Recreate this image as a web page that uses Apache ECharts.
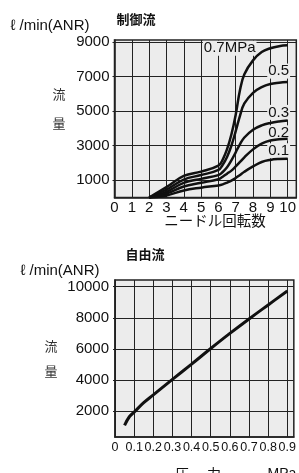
<!DOCTYPE html>
<html>
<head>
<meta charset="utf-8">
<script src="https://cdn.jsdelivr.net/npm/echarts@6/dist/echarts.min.js"></script>
<style>
html,body{margin:0;padding:0;background:#fff;}
#main{width:299px;height:473px;}
</style>
</head>
<body>
<div id="main"></div>
<script>
// 制御流 (needle turns vs flow)
var turns = [2, 3, 4, 5, 6, 6.25, 6.5, 6.75, 7, 7.25, 7.5, 8, 8.5, 9, 9.5, 10];
var flow07 = [0, 600, 1250, 1500, 1850, 2200, 2800, 3650, 4800, 6250, 7150, 7950, 8430, 8650, 8770, 8820];
var flow05 = [0, 450, 1040, 1300, 1600, 1900, 2350, 3000, 3850, 4750, 5450, 6070, 6400, 6580, 6650, 6690];
var flow03 = [0, 330, 850, 1080, 1300, 1480, 1750, 2150, 2620, 3100, 3480, 3930, 4180, 4320, 4410, 4470];
var flow02 = [0, 230, 640, 850, 1060, 1200, 1380, 1560, 1800, 2060, 2330, 2790, 3120, 3300, 3370, 3400];
var flow01 = [0, 120, 410, 570, 700, 760, 860, 980, 1130, 1310, 1490, 1800, 2060, 2180, 2230, 2245];
var turnTicks = [0, 1, 2, 3, 4, 5, 6, 7, 8, 9, 10];
var flowTicks1 = [1000, 3000, 5000, 7000, 9000];

// 自由流 (pressure vs flow)
var pressure = [0.05, 0.075, 0.1, 0.15, 0.2, 0.3, 0.4, 0.5, 0.6, 0.7, 0.8, 0.9];
var freeFlow = [1100, 1650, 1950, 2550, 3050, 4050, 5030, 6030, 7000, 7930, 8830, 9720];
var pressTicks = [0, 0.1, 0.2, 0.3, 0.4, 0.5, 0.6, 0.7, 0.8, 0.9];
var flowTicks2 = [2000, 4000, 6000, 8000, 10000];

var myChart = echarts.init(document.getElementById('main'));

var numFont = 'Liberation Sans';
var plotBg = '#ececec';
var ink = '#111';

function pair(xs, ys){
    var out = [];
    for (var i = 0; i < xs.length; i++) out.push([xs[i], ys[i]]);
    return out;
}
function plain(v){ return String(v); }

function curve(name, ys, dx, dy){
    return {
        name: name,
        type: 'line',
        xAxisIndex: 0,
        yAxisIndex: 0,
        data: pair(turns, ys),
        showSymbol: false,
        smooth: 0.4,
        lineStyle: {color: ink, width: 2.5},
        z: 5,
        markPoint: {
            symbol: 'circle',
            symbolSize: 0,
            silent: true,
            data: [{coord: [turns[turns.length - 1], ys[ys.length - 1]]}],
            label: {
                show: true,
                position: 'inside',
                formatter: name,
                offset: [dx, dy],
                color: ink,
                fontFamily: numFont,
                fontSize: 15,
                backgroundColor: plotBg,
                padding: [0, 1]
            }
        }
    };
}

var axisLineStyle = {show: true, lineStyle: {color: '#222', width: 1.5}};
var gridLine = {show: true, lineStyle: {color: '#222', width: 1}};

var option = {
    animation: false,
    grid: [
        {left: 114.5, right: 0, top: 40, bottom: 275.5, show: true, backgroundColor: plotBg, borderColor: '#222', borderWidth: 1.5},
        {left: 115, right: 0, top: 280, bottom: 36, show: true, backgroundColor: plotBg, borderColor: '#222', borderWidth: 1.5}
    ],
    xAxis: [
        {
            type: 'value', gridIndex: 0, min: 0, max: 10.5,
            axisLine: axisLineStyle,
            axisTick: {show: false, customValues: turnTicks},
            axisLabel: {customValues: turnTicks, formatter: plain, color: ink, fontFamily: numFont, fontSize: 15, margin: 3},
            splitLine: gridLine
        },
        {
            type: 'value', gridIndex: 1, min: 0, max: 0.934,
            axisLine: axisLineStyle,
            axisTick: {show: false, customValues: pressTicks},
            axisLabel: {customValues: pressTicks, formatter: plain, color: ink, fontFamily: numFont, fontSize: 12.5, margin: 4},
            splitLine: gridLine
        }
    ],
    yAxis: [
        {
            type: 'value', gridIndex: 0, min: 0, max: 9130,
            axisLine: axisLineStyle,
            axisTick: {show: true, length: 2, customValues: flowTicks1, lineStyle: {color: '#222'}},
            axisLabel: {customValues: flowTicks1, formatter: plain, color: ink, fontFamily: numFont, fontSize: 15, margin: 5},
            splitLine: gridLine
        },
        {
            type: 'value', gridIndex: 1, min: 350, max: 10430,
            axisLine: axisLineStyle,
            axisTick: {show: true, length: 2, customValues: flowTicks2, lineStyle: {color: '#222'}},
            axisLabel: {customValues: flowTicks2, formatter: plain, color: ink, fontFamily: numFont, fontSize: 15, margin: 6},
            splitLine: gridLine
        }
    ],
    graphic: [
        {type: 'text', x: 136, y: 19, style: {text: '制御流', font: 'bold 13px "Noto Sans CJK JP"', fill: ink, align: 'center', verticalAlign: 'middle'}},
        {type: 'text', x: 50, y: 26, style: {text: 'ℓ /min(ANR)', font: '15px "Liberation Sans"', fill: ink, align: 'center', verticalAlign: 'middle'}},
        {type: 'text', x: 59, y: 94, style: {text: '流', font: '13px "Noto Sans CJK JP"', fill: '#333', align: 'center', verticalAlign: 'middle'}},
        {type: 'text', x: 59, y: 123, style: {text: '量', font: '13px "Noto Sans CJK JP"', fill: '#333', align: 'center', verticalAlign: 'middle'}},
        {type: 'text', x: 215, y: 220, style: {text: 'ニードル回転数', font: '14.5px "Noto Sans CJK JP"', fill: ink, align: 'center', verticalAlign: 'middle'}},
        {type: 'text', x: 145, y: 254, style: {text: '自由流', font: 'bold 13px "Noto Sans CJK JP"', fill: ink, align: 'center', verticalAlign: 'middle'}},
        {type: 'text', x: 60, y: 271, style: {text: 'ℓ /min(ANR)', font: '15px "Liberation Sans"', fill: ink, align: 'center', verticalAlign: 'middle'}},
        {type: 'text', x: 51, y: 346, style: {text: '流', font: '13px "Noto Sans CJK JP"', fill: '#333', align: 'center', verticalAlign: 'middle'}},
        {type: 'text', x: 51, y: 371, style: {text: '量', font: '13px "Noto Sans CJK JP"', fill: '#333', align: 'center', verticalAlign: 'middle'}},
        {type: 'text', x: 182, y: 467, style: {text: '圧', font: '14px "Noto Sans CJK JP"', fill: ink, align: 'center', verticalAlign: 'top'}},
        {type: 'text', x: 214, y: 467, style: {text: '力', font: '14px "Noto Sans CJK JP"', fill: ink, align: 'center', verticalAlign: 'top'}},
        {type: 'text', x: 282, y: 467, style: {text: 'MPa', font: '14px "Liberation Sans"', fill: ink, align: 'center', verticalAlign: 'top'}}
    ],
    series: [
        curve('0.7MPa', flow07, -58, 3),
        curve('0.5', flow05, -9, -11),
        curve('0.3', flow03, -9, -8),
        curve('0.2', flow02, -9, -6),
        curve('0.1', flow01, -9, -8),
        {
            name: '自由流',
            type: 'line',
            xAxisIndex: 1,
            yAxisIndex: 1,
            data: pair(pressure, freeFlow),
            showSymbol: false,
            smooth: 0.4,
            lineStyle: {color: ink, width: 3},
            z: 5
        }
    ]
};
myChart.setOption(option);
</script>
</body>
</html>
